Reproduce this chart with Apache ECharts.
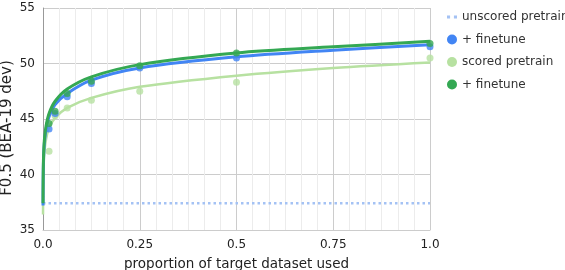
<!DOCTYPE html>
<html>
<head>
<meta charset="utf-8">
<script src="https://cdn.jsdelivr.net/npm/echarts@6/dist/echarts.min.js"></script>
<style>
  html, body { margin: 0; padding: 0; background: #fff; }
  #chart { width: 565px; height: 270px; }
</style>
</head>
<body>
<div id="chart"></div>
<script>
// measured points (proportion of target data used)
var pointX = [0.015625, 0.03125, 0.0625, 0.125, 0.25, 0.5, 1.0]
var unscoredFinetune = [44.1, 45.5, 47.0, 48.2, 49.6, 50.5, 51.5]
var scoredPretrain = [42.1, 45.3, 46.0, 46.7, 47.5, 48.3, 50.5]
var scoredFinetune = [44.6, 45.7, 47.3, 48.4, 49.8, 50.95, 51.8]

// trend lines
var trendX = [0.0001, 0.0002, 0.0005, 0.001, 0.002, 0.004, 0.008, 0.0156, 0.03125, 0.0625, 0.125, 0.25, 0.5, 0.75, 1.0]
var unscoredFinetuneTrend = [37.2, 38.3, 39.7, 40.8, 41.9, 43.0, 44.1, 45.2, 46.3, 47.3, 48.5, 49.6, 50.6, 51.2, 51.7]
var scoredPretrainTrend = [36.4, 37.5, 38.9, 40.0, 41.1, 42.2, 43.2, 44.2, 45.1, 46.0, 46.9, 47.9, 48.9, 49.6, 50.1]
var scoredFinetuneTrend = [37.4, 38.6, 40.0, 41.1, 42.2, 43.3, 44.4, 45.5, 46.6, 47.7, 48.8, 49.9, 50.95, 51.5, 52.0]

var unscoredPretrain = 37.4

var blue = '#4285f4'
var lightGreen = '#b7e1a1'
var green = '#34a853'
var dotBlue = '#a4c2f4'

function zip(xs, ys) {
  return xs.map(function (x, i) { return [x, ys[i]] })
}

var chart = echarts.init(document.getElementById('chart'))
chart.setOption({
  animation: false,
  textStyle: { fontFamily: 'DejaVu Sans' },
  grid: { left: 43, right: 135, top: 8, bottom: 40, outerBoundsMode: 'none' },
  // y axis title sits a bit below the plot centre in the original
  graphic: [{
    type: 'text',
    x: 7,
    y: 128,
    rotation: Math.PI / 2,
    style: {
      text: 'F0.5 (BEA-19 dev)',
      font: '15px "DejaVu Sans"',
      fill: '#222',
      align: 'center',
      verticalAlign: 'middle'
    }
  }],
  legend: {
    orient: 'vertical',
    left: 442,
    top: 5,
    itemWidth: 10,
    itemHeight: 10,
    itemGap: 8.5,
    textStyle: { fontSize: 12, color: '#333', lineHeight: 14 },
    data: [
      { name: 'unscored pretrain', icon: 'path://M0,0h2v2h-2z M4.5,0h2v2h-2z' },
      { name: '+ finetune', icon: 'circle' },
      { name: 'scored pretrain', icon: 'circle' },
      { name: '+ finetune ', icon: 'circle' }
    ]
  },
  xAxis: {
    type: 'value',
    min: 0,
    max: 1,
    interval: 0.25,
    name: 'proportion of target dataset used',
    nameLocation: 'middle',
    nameGap: 27,
    nameTextStyle: { fontSize: 13.5, color: '#222' },
    axisLine: { show: true, lineStyle: { color: '#ccc' } },
    axisTick: { show: false },
    axisLabel: {
      fontSize: 12, color: '#222', margin: 9,
      formatter: function (v) { return v === 0 ? '0.0' : v === 1 ? '1.0' : String(v) }
    },
    splitLine: { show: true, lineStyle: { color: '#ccc' } },
    minorTick: { show: false, splitNumber: 6 },
    minorSplitLine: { show: true, lineStyle: { color: '#ececec' } }
  },
  yAxis: {
    type: 'value',
    min: 35,
    max: 55,
    interval: 5,
    axisLine: { show: true, lineStyle: { color: '#999' } },
    axisTick: { show: false },
    axisLabel: { fontSize: 12, color: '#222', margin: 8 },
    splitLine: { show: true, lineStyle: { color: '#ccc' } }
  },
  series: [
    {
      name: 'unscored pretrain',
      type: 'line',
      symbol: 'none',
      color: dotBlue,
      lineStyle: { color: dotBlue, width: 2.5, type: [2.5, 3] },
      data: [[0, unscoredPretrain], [1, unscoredPretrain]],
      z: 2
    },
    {
      name: 'scored pretrain',
      type: 'line',
      symbol: 'none',
      smooth: 0.3,
      color: lightGreen,
      lineStyle: { color: lightGreen, width: 2.5 },
      data: zip(trendX, scoredPretrainTrend),
      z: 3
    },
    {
      name: 'scored pretrain',
      type: 'scatter',
      symbolSize: 7,
      color: lightGreen,
      data: zip(pointX, scoredPretrain),
      z: 3
    },
    {
      name: '+ finetune',
      type: 'line',
      symbol: 'none',
      smooth: 0.3,
      color: blue,
      lineStyle: { color: blue, width: 3 },
      data: zip(trendX, unscoredFinetuneTrend),
      z: 4
    },
    {
      name: '+ finetune',
      type: 'scatter',
      symbolSize: 7,
      color: blue,
      data: zip(pointX, unscoredFinetune),
      z: 4
    },
    {
      name: '+ finetune ',
      type: 'line',
      symbol: 'none',
      smooth: 0.3,
      color: green,
      lineStyle: { color: green, width: 3 },
      data: zip(trendX, scoredFinetuneTrend),
      z: 5
    },
    {
      name: '+ finetune ',
      type: 'scatter',
      symbolSize: 7,
      color: green,
      data: zip(pointX, scoredFinetune),
      z: 5
    }
  ]
})
</script>
</body>
</html>
